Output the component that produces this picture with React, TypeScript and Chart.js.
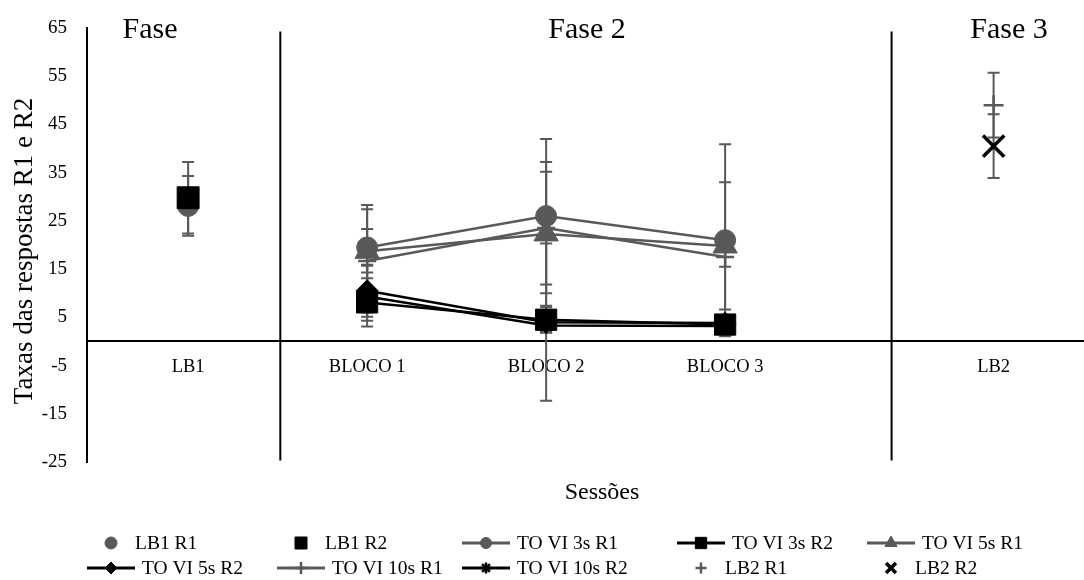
import { useEffect, useRef } from 'react';
import { Chart, registerables } from 'chart.js';
import { drawPoint } from 'chart.js/helpers';

Chart.register(...registerables);

// ---------- data ----------
const categories = ['LB1', 'BLOCO 1', 'BLOCO 2', 'BLOCO 3', 'LB2'];
const sessionX = [1, 3, 5, 7, 10];
const yTicks = [-25, -15, -5, 5, 15, 25, 35, 45, 55, 65];
const phaseTitles = ['Fase', 'Fase 2', 'Fase 3'];
const phaseDividers = [2.03, 8.86];

const lb1R1 = [28.1];
const lb1R1Err = [6.2];
const lb1R2 = [29.8];
const lb1R2Err = [7.4];

const toVi3sR1 = [19.5, 26.0, 21.0];
const toVi3sR1Err = [3.8, 16.0, 19.9];
const toVi3sR2 = [8.1, 4.5, 3.5];
const toVi3sR2Err = [5.0, 2.6, 1.0];
const toVi5sR1 = [18.7, 22.3, 19.8];
const toVi5sR1Err = [9.6, 14.9, 13.2];
const toVi5sR2 = [10.5, 4.0, 3.8];
const toVi5sR2Err = [5.4, 16.3, 1.2];
const toVi10sR1 = [16.7, 23.5, 17.5];
const toVi10sR1Err = [10.7, 11.7, 2.0];
const toVi10sR2 = [9.3, 3.3, 3.2];
const toVi10sR2Err = [5.0, 1.5, 0.8];

const lb2R1 = [49.0];
const lb2R1Err = [6.7];
const lb2R2 = [40.5];
const lb2R2Err = [6.6];

// ---------- styles ----------
const GRAY = '#595959';
const BLACK = '#000000';
const FONT = "'Liberation Serif', 'Times New Roman', serif";

const pts = (vals: number[], start: number) =>
  vals.map((v, i) => ({ x: sessionX[start + i], y: v }));

function buildDatasets() {
  const mk = (
    label: string,
    vals: number[],
    errs: number[],
    start: number,
    color: string,
    showLine: boolean,
    pointStyle: string,
    radius: number,
    borderW: number,
    legendRadius: number,
    lineW: number
  ) => ({
    label,
    data: pts(vals, start),
    errors: errs,
    showLine,
    borderColor: color,
    backgroundColor: color,
    borderWidth: lineW,
    pointStyle,
    pointRadius: radius,
    pointBorderWidth: borderW,
    pointBackgroundColor: color,
    pointBorderColor: color,
    legendRadius,
    tension: 0,
  });
  const list = [
    mk('LB1 R1', lb1R1, lb1R1Err, 0, GRAY, false, 'circle', 10.5, 1, 6, 0),
    mk('LB1 R2', lb1R2, lb1R2Err, 0, BLACK, false, 'rect', 15.5, 1, 8.5, 0),
    mk('TO VI 3s R1', toVi3sR1, toVi3sR1Err, 1, GRAY, true, 'circle', 10.5, 1, 5.5, 2.5),
    mk('TO VI 3s R2', toVi3sR2, toVi3sR2Err, 1, BLACK, true, 'rect', 15, 1, 8, 2.5),
    mk('TO VI 5s R1', toVi5sR1, toVi5sR1Err, 1, GRAY, true, 'triangle', 14, 1, 7, 2.5),
    mk('TO VI 5s R2', toVi5sR2, toVi5sR2Err, 1, BLACK, true, 'rectRot', 11, 1, 6, 2.5),
    mk('TO VI 10s R1', toVi10sR1, toVi10sR1Err, 1, GRAY, true, 'cross', 9, 2.5, 6, 2.5),
    mk('TO VI 10s R2', toVi10sR2, toVi10sR2Err, 1, BLACK, true, 'star', 8, 2.5, 5.5, 2.5),
    mk('LB2 R1', lb2R1, lb2R1Err, 4, GRAY, false, 'cross', 10, 2.5, 5.5, 0),
    mk('LB2 R2', lb2R2, lb2R2Err, 4, BLACK, false, 'crossRot', 15, 3.5, 7, 0),
  ];
  return list.map((d, i) => ({ ...d, order: list.length - i }));
}

// stretch the category (x) scale to the full canvas width on the right
const stretchPlugin = {
  id: 'stretchX',
  afterLayout(chart: any) {
    const xs = chart.scales.x;
    xs.right = chart.width;
    xs.width = xs.right - xs.left;
    xs.configure();
    chart.chartArea.right = chart.width;
    chart.chartArea.width = chart.chartArea.right - chart.chartArea.left;
  },
};

const errorBarPlugin = {
  id: 'errorBars',
  beforeDatasetsDraw(chart: any) {
    const { ctx, scales } = chart;
    const xs = scales.x;
    const ys = scales.y;
    ctx.save();
    ctx.strokeStyle = GRAY;
    ctx.lineWidth = 2;
    chart.data.datasets.forEach((ds: any) => {
      ds.data.forEach((p: any, i: number) => {
        const e = ds.errors[i];
        const px = xs.getPixelForValue(p.x);
        const top = ys.getPixelForValue(p.y + e);
        const bot = ys.getPixelForValue(p.y - e);
        ctx.beginPath();
        ctx.moveTo(px, top);
        ctx.lineTo(px, bot);
        ctx.moveTo(px - 6, top);
        ctx.lineTo(px + 6, top);
        ctx.moveTo(px - 6, bot);
        ctx.lineTo(px + 6, bot);
        ctx.stroke();
      });
    });
    ctx.restore();
  },
};

const overlayPlugin = {
  id: 'overlay',
  afterDraw(chart: any) {
    const { ctx, scales } = chart;
    const xs = scales.x;
    const ys = scales.y;
    ctx.save();
    // phase dividers
    ctx.strokeStyle = BLACK;
    ctx.lineWidth = 2;
    phaseDividers.forEach((d) => {
      const px = xs.getPixelForValue(d);
      ctx.beginPath();
      ctx.moveTo(px, ys.getPixelForValue(64.3));
      ctx.lineTo(px, ys.getPixelForValue(-24.7));
      ctx.stroke();
    });
    // phase titles
    ctx.fillStyle = BLACK;
    ctx.font = `30px ${FONT}`;
    ctx.textAlign = 'center';
    ctx.textBaseline = 'alphabetic';
    const titleX = [150, 587, 1009];
    phaseTitles.forEach((t, i) => ctx.fillText(t, titleX[i], 38));
    // axis titles
    ctx.font = `24px ${FONT}`;
    ctx.textBaseline = 'middle';
    ctx.fillText('Sessões', 602, 493);
    ctx.save();
    ctx.translate(25, 251);
    ctx.rotate(-Math.PI / 2);
    ctx.font = `27px ${FONT}`;
    ctx.fillText('Taxas das respostas R1 e R2', 0, 0);
    ctx.restore();
    // legend
    const rowY = [543, 568];
    const colX = [87, 277, 462, 677, 867];
    const symW = 48;
    ctx.font = `19.5px ${FONT}`;
    ctx.textAlign = 'left';
    ctx.textBaseline = 'middle';
    chart.data.datasets.forEach((ds: any, i: number) => {
      const row = Math.floor(i / 5);
      const col = i % 5;
      const x0 = colX[col];
      const y = rowY[row];
      const cx = x0 + symW / 2;
      if (ds.showLine) {
        ctx.strokeStyle = ds.borderColor;
        ctx.lineWidth = 3;
        ctx.beginPath();
        ctx.moveTo(x0, y);
        ctx.lineTo(x0 + symW, y);
        ctx.stroke();
      }
      ctx.fillStyle = ds.pointBackgroundColor;
      ctx.strokeStyle = ds.pointBorderColor;
      ctx.lineWidth = ds.pointBorderWidth;
      drawPoint(ctx, { pointStyle: ds.pointStyle, radius: ds.legendRadius, rotation: 0, borderWidth: ds.pointBorderWidth }, cx, y);
      ctx.fillStyle = BLACK;
      ctx.fillText(ds.label, x0 + (ds.showLine ? 55 : 48), y + 1);
    });
    ctx.restore();
  },
};

export default function App() {
  const ref = useRef<HTMLCanvasElement | null>(null);
  useEffect(() => {
    if (!ref.current) return;
    Chart.defaults.font.family = FONT;
    const chart = new Chart(ref.current, {
      type: 'line',
      data: { datasets: buildDatasets() as any },
      options: {
        responsive: false,
        animation: false,
        events: [],
        layout: { padding: { top: 28, bottom: 118, left: 0, right: 0 } },
        plugins: { legend: { display: false }, tooltip: { enabled: false }, title: { display: false } },
        scales: {
          x: {
            type: 'linear',
            min: -0.13,
            max: 11.01,
            position: { y: 0 } as any,
            grid: { display: false, drawTicks: false },
            border: { display: true, color: BLACK, width: 2 },
            afterBuildTicks: (s: any) => {
              s.ticks = sessionX.map((v) => ({ value: v }));
            },
            afterFit: (s: any) => {
              s.paddingLeft = 0;
              s.paddingRight = 0;
            },
            ticks: {
              autoSkip: false,
              maxRotation: 0,
              padding: 15,
              color: BLACK,
              font: { size: 18.5, family: FONT },
              callback: (v: any) => {
                const i = sessionX.indexOf(Number(v));
                return i >= 0 ? categories[i] : '';
              },
            },
          },
          y: {
            type: 'linear',
            min: -25,
            max: 65,
            grid: { display: false, drawTicks: false },
            border: { display: true, color: BLACK, width: 2 },
            afterBuildTicks: (s: any) => {
              s.ticks = yTicks.map((v) => ({ value: v }));
            },
            afterFit: (s: any) => {
              s.width = 87;
              s.paddingTop = 0;
              s.paddingBottom = 0;
            },
            ticks: { padding: 20, color: BLACK, font: { size: 19, family: FONT } },
          },
        },
      },
      plugins: [stretchPlugin, errorBarPlugin, overlayPlugin],
    });
    return () => chart.destroy();
  }, []);
  return (
    <div style={{ position: 'absolute', left: 0, top: 0, width: 1084, height: 580, background: '#fff' }}>
      <canvas ref={ref} width={1084} height={580} style={{ width: 1084, height: 580, display: 'block' }} />
    </div>
  );
}
